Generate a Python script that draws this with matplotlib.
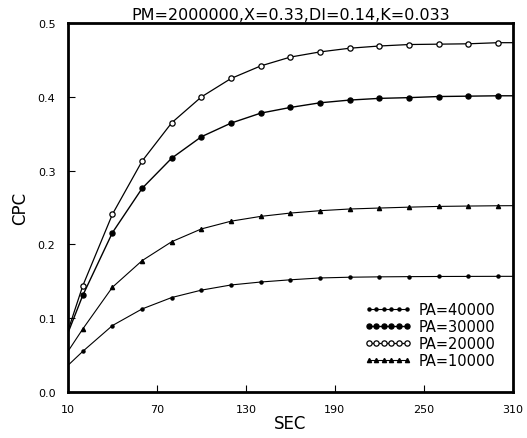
import matplotlib
matplotlib.use("Agg")
import matplotlib.pyplot as plt

# time points (SEC); markers sit on 20..300, curve runs 10..310
sec = [10, 20, 40, 60, 80, 100, 120, 140, 160, 180, 200, 220, 240, 260, 280, 300, 310]

cpc_pa40000 = [0.036, 0.055, 0.090, 0.1125, 0.128, 0.138, 0.145, 0.149, 0.152, 0.1545,
               0.1555, 0.156, 0.1563, 0.1565, 0.1566, 0.1567, 0.1567]
cpc_pa30000 = [0.080, 0.131, 0.216, 0.276, 0.317, 0.346, 0.3645, 0.378, 0.3857, 0.392,
               0.3957, 0.398, 0.399, 0.4005, 0.401, 0.4015, 0.4015]
cpc_pa20000 = [0.083, 0.144, 0.241, 0.313, 0.365, 0.400, 0.425, 0.442, 0.454, 0.461,
               0.466, 0.469, 0.471, 0.4715, 0.472, 0.4735, 0.4735]
cpc_pa10000 = [0.055, 0.0854, 0.142, 0.178, 0.2037, 0.221, 0.2315, 0.238, 0.2425, 0.2457,
               0.248, 0.2493, 0.2505, 0.2515, 0.252, 0.2524, 0.2525]

labels = ["PA=40000", "PA=30000", "PA=20000", "PA=10000"]
x_ticks = [10, 70, 130, 190, 250, 310]
y_ticks = [0.0, 0.1, 0.2, 0.3, 0.4, 0.5]

fig = plt.figure(figsize=(5.27, 4.39), dpi=100)
ax = fig.add_axes([0.129, 0.105, 0.844, 0.84])

mk = slice(1, -1)
ax.plot(sec, cpc_pa40000, "-", color="black", lw=0.8, marker="o", ms=2.2,
        markevery=mk, label=labels[0])
ax.plot(sec, cpc_pa30000, "-", color="black", lw=1.0, marker="o", ms=3.6,
        mfc="black", mec="black", markevery=mk, label=labels[1])
ax.plot(sec, cpc_pa20000, "-", color="black", lw=0.9, marker="o", ms=3.8,
        mfc="white", mec="black", mew=0.9, markevery=mk, label=labels[2])
ax.plot(sec, cpc_pa10000, "-", color="black", lw=0.8, marker="^", ms=3.0,
        markevery=mk, label=labels[3])

ax.set_xlim(10, 310)
ax.set_ylim(0, 0.5)
ax.set_xticks(x_ticks)
ax.set_yticks(y_ticks)
ax.set_yticklabels(["0.0", "0.1", "0.2", "0.3", "0.4", "0.5"])
ax.tick_params(direction="in", length=5, width=0.8, labelsize=8, pad=9)

for s in ax.spines.values():
    s.set_linewidth(2)

ax.set_title("PM=2000000,X=0.33,DI=0.14,K=0.033", fontsize=11.5, pad=3)
ax.set_xlabel("SEC", fontsize=12, labelpad=0)
ax.set_ylabel("CPC", fontsize=12, labelpad=6)

ax.legend(loc="lower right", frameon=False, numpoints=6, handlelength=3.2,
          fontsize=10.5, labelspacing=0.12, handletextpad=0.5,
          bbox_to_anchor=(0.99, 0.03))

fig.savefig("out.png", dpi=100)
